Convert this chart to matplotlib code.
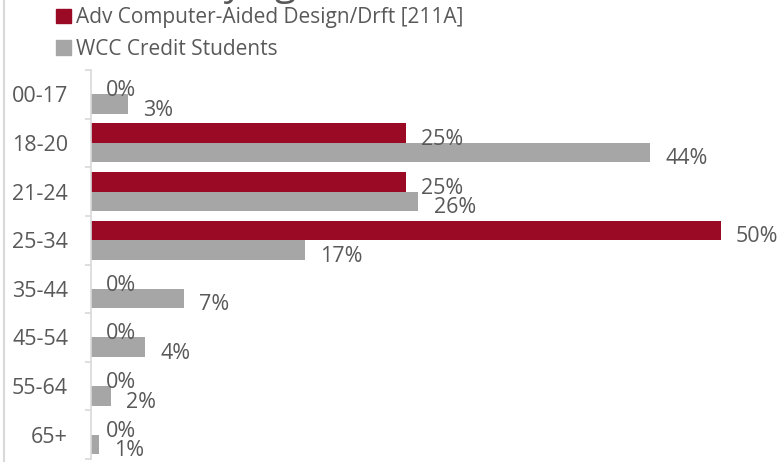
import matplotlib
matplotlib.use("Agg")
import matplotlib.pyplot as plt
import matplotlib.transforms as mtransforms
from matplotlib.patches import Patch
from matplotlib.lines import Line2D
import numpy as np

# ---------- data ----------
age_groups   = ["00-17", "18-20", "21-24", "25-34", "35-44", "45-54", "55-64", "65+"]
program_pct  = [0, 25, 25, 50, 0, 0, 0, 0]
wcc_pct      = [2.9, 44.4, 26, 17, 7.4, 4.3, 1.6, 0.6]
series_names = ["Adv Computer-Aided Design/Drft [211A]", "WCC Credit Students"]

RED   = "#9B0A25"
GRAY  = "#A6A6A6"
TEXT  = "#595959"
LINE  = "#D9D9D9"

plt.rcParams['font.family'] = ['Open Sans', 'DejaVu Sans']

W, H = 782, 462
fig = plt.figure(figsize=(W / 100, H / 100), dpi=100)
ax = fig.add_axes([91 / W, 3 / H, 680 / W, 389 / H])

y = np.arange(len(age_groups))
bh = 0.4
ax.barh(y - bh / 2, program_pct, height=bh, color=RED)
ax.barh(y + bh / 2, wcc_pct, height=bh, color=GRAY)

# data labels (Excel style: right of bar end, a bit low)
for yy, v in zip(y - bh / 2, program_pct):
    ax.annotate(f"{v:.0f}%", (v, yy), xytext=(11, -4.5), textcoords="offset points",
                ha="left", va="center", fontsize=15.5, color=TEXT)
for yy, v in zip(y + bh / 2, wcc_pct):
    ax.annotate(f"{v:.0f}%", (v, yy), xytext=(11, -4.5), textcoords="offset points",
                ha="left", va="center", fontsize=15.5, color=TEXT)

ax.set_xlim(0, 54)
ax.set_ylim(len(age_groups) - 0.5, -0.5)
ax.set_yticks(y)
ax.set_yticklabels(age_groups, fontsize=15.5, color=TEXT)
# category labels sit a little below the group centre
shift = mtransforms.ScaledTranslation(0, -3 / 100, fig.dpi_scale_trans)
for lbl in ax.get_yticklabels():
    lbl.set_transform(lbl.get_transform() + shift)
ax.set_yticks(np.arange(-0.5, len(age_groups)), minor=True)
ax.tick_params(axis="y", which="major", length=0, pad=16.5)
ax.tick_params(axis="y", which="minor", length=4, color=LINE, width=1.2)
ax.set_xticks([])
for s in ["top", "right", "bottom"]:
    ax.spines[s].set_visible(False)
ax.spines["left"].set_color(LINE)
ax.spines["left"].set_linewidth(1.2)

# legend
handles = [Patch(color=RED), Patch(color=GRAY)]
fig.legend(handles, series_names, loc="upper left", bbox_to_anchor=(48 / W, 1 + 1 / H),
           frameon=False, fontsize=15, labelcolor=TEXT, handlelength=0.7, handleheight=0.7,
           handletextpad=0.25, labelspacing=0.5, borderaxespad=0)

# title cut off at the top of the picture
fig.text(200 / W, 1 + 5 / H, "by age", fontsize=28, color=TEXT, ha="left", va="baseline")

# frame line on the left
fig.add_artist(Line2D([3.5 / W, 3.5 / W], [0, 1], color=LINE, linewidth=1.5))

fig.savefig("out.png", dpi=100)
